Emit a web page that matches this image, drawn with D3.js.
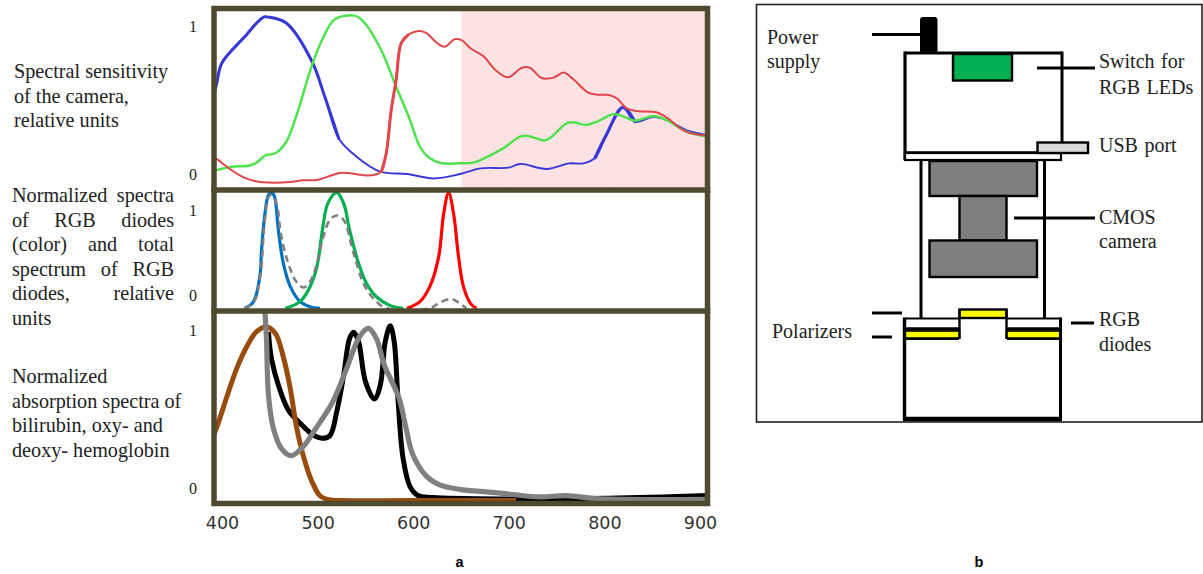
<!DOCTYPE html>
<html><head><meta charset="utf-8">
<script src="https://cdn.jsdelivr.net/npm/d3@7/dist/d3.min.js"></script>
<style>html,body{margin:0;padding:0;background:#fff}svg{display:block}</style>
</head><body><svg id="c" width="1203" height="574"></svg>
<script>
// ---------- data ----------
const xTicks = [400,500,600,700,800,900];
const camBlueX = [400,404,409,431,451,456,474,500,513,527,545,569,596,623,650,670,699,710,737,760,774,786,797,814,826,845,858,878,900];
const camBlueY = [.5,.62,.75,.92,1.06,1.06,1.02,.76,.52,.24,.117,.016,0,-.03,0,.038,.043,.068,.034,.072,.072,.11,.26,.45,.354,.387,.365,.297,.262];
const camGreenX = [400,404,421,436,444,453,463,474,485,500,511,523,543,552,569,585,599,609,619,631,649,663,676,693,710,717,735,742,757,764,777,788,805,815,826,845,858,878,900];
const camGreenY = [.02,.027,.05,.056,.077,.126,.14,.218,.41,.736,.917,1.045,1.07,1.03,.85,.59,.365,.185,.106,.072,.072,.077,.113,.173,.252,.259,.227,.252,.342,.349,.331,.354,.405,.387,.36,.392,.365,.286,.25];
const camRedX = [400,404,417,431,442,461,478,491,505,516,528,536,552,562,570,575,580,585,590,597,609,616,626,634,644,651,660,673,686,698,712,720,732,744,754,764,779,788,800,808,818,828,848,858,878,900];
const camRedY = [.115,.1,.034,-.023,-.047,-.059,-.054,-.043,-.041,-.018,.007,.007,-.009,-.007,.016,.14,.432,.635,.883,.939,.966,.95,.887,.86,.91,.905,.85,.797,.698,.653,.718,.718,.649,.651,.685,.64,.55,.536,.534,.511,.444,.426,.417,.383,.286,.258];

const ledBlueX = [432,441,447.5,449,452.5,456,459,462,466,471,478,488,498,508];
const ledBlueY = [0,.058,.29,.5,.82,.98,1,.97,.68,.39,.19,.058,.014,0];
const ledGreenX = [473,488,498,505,511,516,525,532,538,547,555,565,579,592];
const ledGreenY = [0,.058,.187,.36,.706,.908,1,.908,.677,.389,.216,.1,.023,0];
const ledRedX = [596,609,619,628,633,638,643,648,653,660,666];
const ledRedY = [0,.058,.187,.447,.82,1,.82,.447,.187,.043,0];
const ledTotalX = [432,441,447.5,452.5,456,459,464,469,476,483,491,498,505,511,518,525,532,542,552,562,575,619,629,641,648,656];
const ledTotalY = [0,.05,.27,.78,.96,.98,.91,.62,.39,.245,.18,.23,.39,.605,.764,.803,.764,.476,.216,.086,0,0,.05,.08,.05,0];

const biliX = [400,404,414,424,434,444,454,463,471,478,484,491,500,508,517,530,600,706];
const biliY = [.36,.417,.592,.757,.883,.971,1,.961,.825,.641,.427,.252,.097,.015,-.008,-.013,-.013,-.013];
const oxyX = [456,459,466,476,488,501,510,518,525,532,538,542,547,554,563,569,574,579,583,587,592,599,607,622,700,800,900];
const oxyY = [.97,.816,.66,.515,.437,.369,.35,.365,.505,.718,.932,.967,.913,.68,.579,.66,.913,1.006,.913,.563,.233,.068,.016,.004,-.004,0,.016];
const deoxyX = [452,454,456,461,469,479,491,504,521,535,548,557,565,573,588,595,602,616,629,649,670,690,703,730,757,787,900];
const deoxyY = [1.13,.932,.602,.408,.291,.248,.3,.408,.563,.757,.942,.99,.932,.777,.583,.408,.252,.126,.078,.052,.04,.03,.022,.008,.016,-.002,-.006];

const sideTop = ["Spectral sensitivity","of the camera,","relative units"];
const sideMid = ["Normalized spectra","of RGB diodes","(color) and total","spectrum of RGB","diodes, relative","units"];
const sideBot = ["Normalized","absorption spectra of","bilirubin, oxy- and","deoxy- hemoglobin"];

// ---------- scales ----------
const svg = d3.select("#c");
const x = d3.scaleLinear().domain([400,900]).range([213,708]);
const xLabel = d3.scaleLinear().domain([400,900]).range([222,700]);
const yTop = d3.scaleLinear().domain([0,1]).range([174,26]);
const yMid = d3.scaleLinear().domain([0,1]).range([308.3,192.7]);
const yBot = d3.scaleLinear().domain([0,1]).range([498.3,326.7]);
const yMidLabel = d3.scaleLinear().domain([0,1]).range([295,210]);
const yBotLabel = d3.scaleLinear().domain([0,1]).range([488,330]);

const FRAME = {l:214,r:707.5,t:8.5,a:190,b:311,c:503.5};
const SERIF = "'Liberation Serif',serif";
const INK = "#222";

const defs = svg.append("defs");
defs.append("filter").attr("id","soft").append("feGaussianBlur").attr("stdDeviation",0.55);
defs.append("filter").attr("id","soft2").append("feGaussianBlur").attr("stdDeviation",0.35);
[["clipT",FRAME.t,FRAME.a],["clipM",FRAME.a,FRAME.b],["clipB",FRAME.b,FRAME.c]].forEach(([id,a,b])=>{
  defs.append("clipPath").attr("id",id).append("rect").attr("x",FRAME.l).attr("y",a).attr("width",FRAME.r-FRAME.l).attr("height",b-a);
});

// pink band
svg.append("rect").attr("x",x(651)).attr("y",FRAME.t).attr("width",FRAME.r-x(651)).attr("height",FRAME.a-FRAME.t).attr("fill","#fde2e3");

function draw(g,xs,ys,yScale,color,w,opts={}){
  const pts = xs.map((d,i)=>[d,ys[i]]);
  const line = d3.line().x(d=>x(d[0])).y(d=>yScale(d[1])).curve(d3.curveCatmullRom.alpha(0.5));
  const p = g.append("path").attr("d",line(pts)).attr("fill","none").attr("stroke",color)
    .attr("stroke-width",w).attr("stroke-linejoin","round");
  if(opts.dash) p.attr("stroke-dasharray",opts.dash);
  (opts.thick||[]).forEach(([a,b,tw])=>{
    g.append("path").attr("d",line(pts.filter(d=>d[0]>=a&&d[0]<=b))).attr("fill","none")
      .attr("stroke",color).attr("stroke-width",tw).attr("stroke-linecap","round");
  });
}

// top panel
const gT = svg.append("g").attr("clip-path","url(#clipT)").append("g").attr("filter","url(#soft)");
draw(gT,camBlueX,camBlueY,yTop,"#3737d6",1.9,{thick:[[400,527,3],[786,826,3.2]]});
draw(gT,camGreenX,camGreenY,yTop,"#4fe34f",2.5);
draw(gT,camRedX,camRedY,yTop,"#e0474c",2,{thick:[[570,597,3]]});

// ticks under the top panel
svg.append("g").attr("transform",`translate(0,${FRAME.a-3})`)
  .call(d3.axisBottom(x).tickValues(xTicks.slice(1,5)).tickSize(1).tickFormat(""))
  .call(g=>g.select(".domain").remove())
  .call(g=>g.selectAll("line").attr("stroke","#999"));

// middle panel
const gM = svg.append("g").attr("clip-path","url(#clipM)").append("g").attr("filter","url(#soft2)");
draw(gM,ledBlueX,ledBlueY,yMid,"#0070c0",3.2);
draw(gM,ledGreenX,ledGreenY,yMid,"#00b050",3.2);
draw(gM,ledRedX,ledRedY,yMid,"#ff0000",3.2);
draw(gM,ledTotalX,ledTotalY,yMid,"#808080",2.6,{dash:"7,4.5"});

// bottom panel
const gB = svg.append("g").attr("clip-path","url(#clipB)").append("g").attr("filter","url(#soft2)");
draw(gB,oxyX,oxyY,yBot,"#000000",5);
draw(gB,biliX,biliY,yBot,"#974c0c",5);
draw(gB,deoxyX,deoxyY,yBot,"#808080",5.2);

// frames
const fr = svg.append("g").attr("stroke","#4f4a2f").attr("stroke-width",5.5).attr("fill","none").attr("stroke-linecap","square");
fr.append("rect").attr("x",FRAME.l).attr("y",FRAME.t).attr("width",FRAME.r-FRAME.l).attr("height",FRAME.c-FRAME.t);
[FRAME.a,FRAME.b].forEach(y=>fr.append("line").attr("x1",FRAME.l).attr("x2",FRAME.r).attr("y1",y).attr("y2",y));

// axes
svg.append("g").attr("transform","translate(0,521)")
  .call(d3.axisBottom(xLabel).tickValues(xTicks).tickSize(0).tickPadding(0))
  .call(g=>g.select(".domain").remove())
  .call(g=>g.selectAll("text").attr("font-family","'DejaVu Sans',sans-serif").attr("font-size",17.5).attr("fill","#333").attr("dy",".45em"));
[[yTop,[0,1]],[yMidLabel,[0,1]],[yBotLabel,[0,1]]].forEach(([s,t])=>{
  svg.append("g").attr("transform","translate(197,0)")
    .call(d3.axisLeft(s).tickValues(t).tickFormat(d3.format("d")).tickSize(0).tickPadding(0))
    .call(g=>g.select(".domain").remove())
    .call(g=>g.selectAll("text").attr("font-family",SERIF).attr("font-size",16).attr("fill",INK));
});

// side texts
function txt(s,px,py,size=20.2,extra={}){
  const t = svg.append("text").attr("x",px).attr("y",py).attr("font-family",SERIF).attr("font-size",size).attr("fill",INK).text(s);
  Object.entries(extra).forEach(([k,v])=>t.attr(k,v));
  return t;
}
function justify(t,w){
  const n = t.text().split(" ").length-1;
  if(n>0){ t.attr("word-spacing",(w-t.node().getComputedTextLength())/n); }
}
sideTop.forEach((s,i)=>txt(s,14,78+i*24.5));
sideMid.forEach((s,i)=>{
  const t = txt(s,12,202+i*24.5);
  if(i<5) justify(t,162);
});
sideBot.forEach((s,i)=>txt(s,12,383+i*24.5));

txt("a",455.5,567,14.5,{"font-family":"'Liberation Sans',sans-serif","font-weight":"bold","fill":"#000"});
txt("b",974.5,567,14.5,{"font-family":"'Liberation Sans',sans-serif","font-weight":"bold","fill":"#000"});

// ---------- schematic (panel b) ----------
const d = svg.append("g");
const rect=(a,b,c,e,fill,sw=2.5)=>d.append("rect").attr("x",a).attr("y",b).attr("width",c-a).attr("height",e-b).attr("fill",fill).attr("stroke","#000").attr("stroke-width",sw);
const ln=(a,b,c,e,sw=3)=>d.append("line").attr("x1",a).attr("y1",b).attr("x2",c).attr("y2",e).attr("stroke","#000").attr("stroke-width",sw);

rect(756.5,4.5,1202,422,"#fff",1.6).attr("stroke","#222");
// power
ln(872,34.5,921,34.5,3);
rect(920.5,17.5,937,53,"#000",1).attr("rx",2);
// camera body
ln(905,53,1062,53,3); ln(905,51.5,905,160,3.2); ln(1062,51.5,1062,153,3);
rect(953,54,1012,80.5,"#00b050",2.4);
ln(1037,68,1095,68,3);
// plate
ln(904,152.5,1037,152.5,2.4);
rect(905,153,1061,160,"#fff",2.2);
rect(1037.5,142.5,1088,153,"#d9d9d9",2.4);
// tube
ln(921,160,921,318,3); ln(1044.5,160,1044.5,318,3);
rect(929.5,161,1037,196,"#7f7f7f",2.4);
rect(959.5,196,1006.5,240.5,"#7f7f7f",2.4);
rect(929.5,240.5,1037,277,"#7f7f7f",2.4);
ln(1014,218,1095,218,3);
// lower assembly
ln(872,313,902,313,3); ln(872,337,892,337,3); ln(1071,323,1094,323,3);
rect(959.5,309.5,1006.5,318,"#ffff00",2.4);
ln(905,318.5,959,318.5,2); ln(1007,318.5,1061,318.5,2);
ln(905,329,959,329,3.4); ln(1007,329,1061,329,3.4);
rect(905,331,959.5,338,"#ffff00",1.6);
rect(1006.5,331,1060.5,338,"#ffff00",1.6);
ln(959.5,309,959.5,339,2.4); ln(1006.5,309,1006.5,339,2.4);
ln(904.5,317.5,904.5,420,3.4); ln(1060.5,317.5,1060.5,420,3);
ln(904,339,959,339,2); ln(1007,339,1061,339,2);
ln(903,419,1062,419,4.4);
// labels
const labels = [["Power",767,44],["supply",767,68],["Switch for",1099,68],["RGB LEDs",1099,94],["USB port",1099,152],["CMOS",1099,224],["camera",1099,248],["Polarizers",772,338],["RGB",1099,326],["diodes",1099,351]];
labels.forEach(([s,a,b])=>txt(s,a,b,20,{"word-spacing":s.includes(" ")?1.5:0}));
</script></body></html>
